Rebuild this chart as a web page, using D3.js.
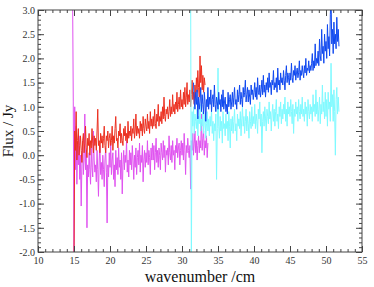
<!DOCTYPE html>
<html>
<head>
<meta charset="utf-8">
<script src="https://cdn.jsdelivr.net/npm/d3@7"></script>
<style>
  body { margin: 0; background: #fff; }
</style>
</head>
<body>
<div id="chart"></div>
<script>
// spectra sampled on a regular 0.1 cm grid, starting at the given wavenumber
const step = 0.1;
const serif = "'Liberation Serif', 'Times New Roman', 'DejaVu Serif', serif";

const redStart = 15.0;
const redFlux = [
  -2.2, 0.5, 0.1, 0.9, -0.1, 0.3, 0.55, 0.0, 0.2, 0.4,
  0.1, -0.15, 0.3, 0.45, 0.05, 0.25, 0.6, 0.15, -0.05, 0.35,
  0.2, 0.45, 0.0, 0.3, 0.15, 0.55, 0.25, 0.05, 0.4, 0.2,
  0.35, 0.1, 0.5, 0.95, 0.2, 0.3, 0.05, 0.45, 0.25, 0.4,
  0.15, 0.35, 0.6, 0.2, 0.05, 0.4, 0.3, 0.5, 0.15, 0.35,
  0.45, 0.2, 0.3, 0.6, 0.1, 0.4, 0.25, 0.55, 0.8, 0.3,
  0.35, 0.15, 0.5, 0.4, 0.65, 0.25, 0.45, 0.3, 0.2, 0.55,
  0.4, 0.6, 0.3, 0.45, 0.25, 0.7, 0.35, 0.5, 0.4, 0.6,
  0.3, 0.55, 0.45, 0.75, 0.35, 0.5, 0.85, 0.4, 0.6, 0.45,
  0.55, 0.35, 0.7, 0.5, 0.65, 0.4, 0.8, 0.55, 0.45, 0.75,
  0.6, 0.5, 0.85, 0.55, 0.7, 0.45, 0.9, 0.6, 0.75, 0.55,
  0.8, 0.6, 0.95, 0.65, 0.55, 0.85, 0.7, 1.05, 0.6, 0.8,
  0.7, 0.9, 0.65, 1.0, 0.75, 1.2, 0.8, 0.7, 0.95, 0.85,
  1.0, 0.75, 0.9, 1.15, 0.8, 1.0, 0.85, 1.25, 0.9, 1.05,
  0.85, 1.1, 0.95, 1.3, 0.9, 1.05, 1.2, 0.95, 1.35, 1.0,
  1.15, 0.95, 1.3, 1.05, 1.4, 1.0, 1.2, 1.5, 1.05, 1.25,
  1.1, 1.35, 1.0, 1.25, 1.55, 1.15, 1.3, 1.05, 1.45, 1.2,
  1.6, 1.3, 1.75, 1.4, 1.2, 2.05, 1.5, 1.85, 1.35, 1.65,
  1.3, 1.6, 1.45
];

const magentaStart = 14.8;
const magentaFlux = [
  3.4, 1.1,
  -2.3, 1.0, -0.3, 0.6, -0.6, 0.2, -0.2, 0.4, -0.5, 0.0,
  -1.05, -0.2, 0.3, -0.4, -0.1, 0.85, -0.3, 0.1, -1.5, -0.2,
  -0.45, 0.05, -0.3, -0.6, 0.15, -0.25, -0.45, 0.5, -0.1, -0.35,
  -0.2, -0.55, 0.1, -0.3, -0.85, -0.1, 0.2, -0.4, -0.15, -0.5,
  0.0, -0.3, -0.65, -0.1, 0.15, -0.35, -1.4, -0.2, -0.45, 0.05,
  -0.25, 0.25, -0.4, -0.1, 0.05, -0.5, -0.2, -0.65, 0.1, -0.3,
  -0.05, -0.4, 0.15, -0.25, -0.1, -0.5, 0.05, -0.8, -0.2, 0.1,
  -0.3, 0.0, -0.15, 0.3, -0.35, -0.1, -0.45, 0.1, -0.2, 0.05,
  -0.3, 0.2, -0.1, -0.5, 0.0, -0.25, 0.15, -0.4, -0.05, 0.1,
  -0.2, 0.25, -0.35, 0.0, -0.15, 0.2, -0.55, -0.1, 0.1, -0.25,
  0.05, -0.15, 0.3, -0.2, 0.1, -0.05, -0.4, 0.15, -0.1, 0.25,
  -0.1, 0.2, -0.3, 0.05, 0.35, -0.15, 0.1, -0.25, 0.15, 0.0,
  -0.3, 0.25, 0.05, -0.1, 0.3, -0.05, 0.2, -0.35, 0.1, 0.0,
  0.15, -0.2, 0.4, 0.05, -0.1, 0.2, -0.15, 0.3, 0.0, 0.1,
  -0.3, 0.2, 0.05, 0.35, -0.05, 0.15, 0.25, -0.2, 0.1, 0.3,
  0.0, 0.25, -0.1, 0.45, 0.1, -0.4, 0.2, 0.05, 0.35, 0.1,
  -0.05, 0.2, -0.7, 0.3, 0.1, 0.45, 0.0, 0.25, 0.5, 0.05,
  0.3, -0.1, 0.2, 0.4, 0.05, 0.3, 0.15, 0.85, 0.1, 0.35,
  0.5, 0.0, 0.3, 0.15, 0.4, -0.05, 0.25
];

const blueStart = 31.6;
const blueFlux = [
  1.5, 1.1, 0.95, 1.3,
  1.05, 1.35, 0.75, 1.2, 0.95, 1.1, 1.4, 0.9, 1.25, 1.05,
  0.85, 1.3, 1.1, 0.7, 1.15, 1.0, 1.4, 0.95, 1.2, 1.05,
  1.35, 0.9, 1.15, 1.25, 1.0, 1.45, 1.05, 0.9, 1.2, 1.1,
  0.95, 1.3, 1.05, 1.15, 0.9, 1.25, 1.0, 1.35, 0.95, 1.1,
  1.2, 0.9, 1.05, 0.85, 1.3, 1.0, 1.15, 1.25, 0.95, 1.1,
  1.3, 1.0, 1.2, 1.4, 1.05, 1.15, 0.95, 1.35, 1.1, 1.25,
  1.45, 1.05, 1.3, 1.15, 1.0, 1.4, 1.2, 1.3, 1.55, 1.1,
  1.25, 1.4, 1.1, 1.35, 1.2, 1.05, 1.45, 1.25, 1.35, 1.15,
  1.3, 1.5, 1.2, 1.4, 1.15, 1.6, 1.3, 1.25, 1.45, 1.2,
  1.35, 1.55, 1.25, 1.65, 1.3, 1.45, 1.2, 1.5, 1.35, 1.6,
  1.3, 1.7, 1.4, 1.5, 1.25, 1.55, 1.45, 1.75, 1.35, 1.5,
  1.4, 1.6, 1.3, 1.8, 1.45, 1.55, 1.35, 1.7, 1.5, 1.6,
  1.45, 1.75, 1.55, 1.35, 1.65, 1.85, 1.5, 1.7, 1.6, 1.45,
  1.7, 1.55, 1.9, 1.6, 1.5, 1.75, 1.65, 1.85, 1.55, 1.7,
  1.8, 1.6, 1.7, 1.95, 1.55, 1.75, 1.65, 1.85, 1.7, 1.6,
  1.85, 1.7, 2.0, 1.65, 1.8, 1.75, 1.95, 1.7, 1.85, 1.75,
  1.9, 2.1, 1.75, 1.95, 1.8, 2.3, 1.85, 2.0, 1.9, 2.15,
  1.85, 2.4, 2.05, 1.95, 2.6, 2.1, 2.25, 1.9, 2.5, 2.15,
  2.35, 2.0, 2.7, 2.2, 2.45, 2.05, 2.9, 3.3, 2.3, 2.6,
  2.1, 2.75, 2.3, 2.5, 2.2, 2.85, 2.35, 2.6, 2.25
];

const cyanStart = 31.2;
const cyanFlux = [
  3.4, -2.3, 0.9, 0.6, 1.0, 0.45, 0.85, 0.7,
  0.55, 0.95, 0.4, 0.8, 0.65, 1.05, 0.5, 0.75, 0.6, 0.9,
  0.45, 0.7, 0.85, 0.35, 0.65, 0.9, 0.5, 0.75, 0.4, 0.8,
  0.6, 0.95, 0.45, 0.7, 0.3, 0.65, 0.5, 0.85, -0.5, 0.55,
  1.8, 0.6, 0.35, 0.8, 0.5, 0.7, 0.25, 0.9, 0.55, 0.65,
  0.4, 0.85, 0.55, 0.7, 0.3, 0.9, 0.6, 0.15, 0.75, 0.5,
  0.8, 0.45, 0.7, 0.95, 0.5, 0.65, 0.3, 0.85, 0.6, 0.75,
  0.55, 0.9, 0.4, 0.75, 1.0, 0.6, 0.8, 0.45, 0.7, 0.95,
  0.5, 0.8, 0.65, 0.35, 0.9, 0.7, 0.55, 1.0, 0.6, 0.8,
  0.65, 1.05, 0.55, 0.85, 0.7, 0.45, 0.95, 0.75, 1.1, 0.6,
  0.85, 0.05, 0.7, 0.9, 0.6, 1.0, 0.75, 0.5, 0.95, 0.8,
  0.65, 1.1, 0.75, 0.9, 0.5, 0.85, 1.05, 0.7, 0.95, 0.6,
  0.9, 1.15, 0.7, 0.85, 0.55, 1.0, 0.8, 1.1, 0.65, 0.95,
  0.75, 1.05, 0.85, 1.2, 0.7, 0.95, 0.6, 1.1, 0.85, 1.0,
  0.8, 1.15, 0.9, 0.65, 1.05, 0.45, 0.95, 0.8, 1.1, 0.85,
  1.0, 0.7, 1.15, 0.9, 0.75, 1.05, 0.85, 1.2, 0.8, 0.95,
  0.7, 1.1, 0.85, 1.0, 0.6, 1.15, 0.9, 0.75, 1.05, 0.85,
  1.0, 0.7, 1.25, 0.9, 1.05, 0.8, 1.35, 0.85, 1.1, 0.7,
  0.95, 1.2, 0.65, 1.05, 0.85, 1.45, 0.9, 1.1, 0.75, 1.3,
  0.8, 1.15, 0.6, 1.3, 0.95, 1.1, 0.7, 1.9, 1.0, 1.25,
  0.7, 1.35, 0.9, 0.0, 1.15, 1.4, 0.85, 1.2, 0.9
];

const xDomain = [10, 55];
const yDomain = [-2, 3];

const series = [
  {name: "magenta", start: magentaStart, values: magentaFlux, color: "#e052f0"},
  {name: "red", start: redStart, values: redFlux, color: "#ec3020"},
  {name: "cyan", start: cyanStart, values: cyanFlux, color: "#7ffaff"},
  {name: "blue", start: blueStart, values: blueFlux, color: "#0f48f0"}
];

const margin = {top: 10, right: 12, bottom: 35, left: 38};
const W = 374, H = 287;
const width = W - margin.left - margin.right;
const height = H - margin.top - margin.bottom;

const svg = d3.select("#chart").append("svg")
    .attr("width", W)
    .attr("height", H);

const g = svg.append("g")
    .attr("transform", `translate(${margin.left},${margin.top})`);

const x = d3.scaleLinear().domain(xDomain).range([0, width]);
const y = d3.scaleLinear().domain(yDomain).range([height, 0]);

g.append("clipPath").attr("id", "plotClip")
  .append("rect").attr("width", width).attr("height", height);

const line = d3.line()
    .x(d => x(d[0]))
    .y(d => y(d[1]));

const plot = g.append("g").attr("clip-path", "url(#plotClip)");
series.forEach(s => {
    const pts = s.values.map((v, i) => [s.start + i * step, v]);
    plot.append("path")
        .attr("class", "spec-" + s.name)
        .attr("d", line(pts))
        .attr("fill", "none")
        .attr("stroke", s.color)
        .attr("stroke-width", 1);
});

// axes: grace-style inward ticks on all four sides
const axisColor = "#444";
const fmtY = d => d.toFixed(1);
const xMajor = d3.range(10, 55.1, 5);
const xMinor = d3.range(10, 55.1, 1);
const yMajor = d3.range(-2, 3.01, 0.5);
const yMinor = d3.range(-2, 3.01, 0.1);

function styleAxis(sel) {
    sel.attr("font-family", serif).attr("font-size", 10);
    sel.select(".domain").remove();
    sel.selectAll("line").attr("stroke", axisColor);
    sel.selectAll("text").attr("fill", "#333");
}

g.append("g").attr("transform", `translate(0,${height})`)
    .call(d3.axisBottom(x).tickValues(xMinor).tickSize(-3).tickFormat(""))
    .call(styleAxis);
g.append("g").attr("transform", `translate(0,${height})`)
    .call(d3.axisBottom(x).tickValues(xMajor).tickSize(-6).tickPadding(5).tickFormat(d3.format("d")))
    .call(styleAxis);
g.append("g")
    .call(d3.axisTop(x).tickValues(xMinor).tickSize(-3).tickFormat(""))
    .call(styleAxis);
g.append("g")
    .call(d3.axisTop(x).tickValues(xMajor).tickSize(-6).tickFormat(""))
    .call(styleAxis);

g.append("g")
    .call(d3.axisLeft(y).tickValues(yMinor).tickSize(-3).tickFormat(""))
    .call(styleAxis);
g.append("g")
    .call(d3.axisLeft(y).tickValues(yMajor).tickSize(-6).tickPadding(3).tickFormat(fmtY))
    .call(styleAxis);
g.append("g").attr("transform", `translate(${width},0)`)
    .call(d3.axisRight(y).tickValues(yMinor).tickSize(-3).tickFormat(""))
    .call(styleAxis);
g.append("g").attr("transform", `translate(${width},0)`)
    .call(d3.axisRight(y).tickValues(yMajor).tickSize(-6).tickFormat(""))
    .call(styleAxis);

g.append("rect")
    .attr("width", width)
    .attr("height", height)
    .attr("fill", "none")
    .attr("stroke", axisColor)
    .attr("stroke-width", 1);

g.append("text")
    .attr("x", width / 2)
    .attr("y", height + 30)
    .attr("text-anchor", "middle")
    .attr("fill", "#111")
    .attr("font-family", serif)
    .attr("font-size", 16)
    .text("wavenumber /cm");

g.append("text")
    .attr("transform", `translate(${-25},${height / 2}) rotate(-90)`)
    .attr("text-anchor", "middle")
    .attr("fill", "#111")
    .attr("font-family", serif)
    .attr("font-size", 15)
    .text("Flux / Jy");
</script>
</body>
</html>
